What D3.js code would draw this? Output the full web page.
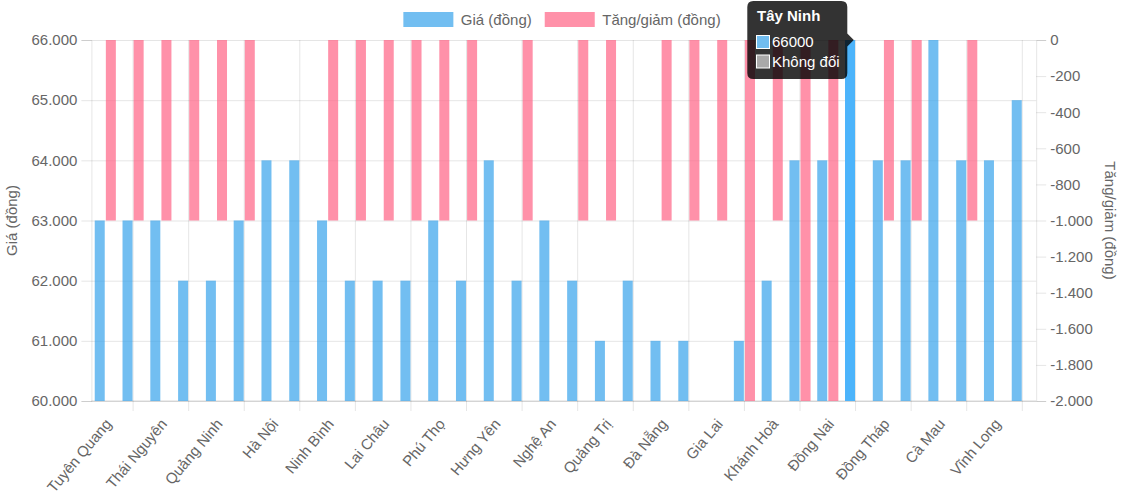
<!DOCTYPE html>
<html>
<head>
<meta charset="utf-8">
<script src="https://cdn.jsdelivr.net/npm/d3@7"></script>
<style>
  html, body { margin: 0; padding: 0; background: #fff; }
  svg { display: block; font-family: Arial, "Liberation Sans", Helvetica, sans-serif; }
</style>
</head>
<body>
<svg id="chart" width="1125" height="500"></svg>
<script>
// ---- data ----
const provinces = ["Tuyên Quang","Cao Bằng","Thái Nguyên","Lạng Sơn","Quảng Ninh","Bắc Ninh","Hà Nội","Hải Phòng","Ninh Bình","Điện Biên","Lai Châu","Sơn La","Phú Thọ","Lào Cai","Hưng Yên","Thanh Hoá","Nghệ An","Hà Tĩnh","Quảng Trị","Huế","Đà Nẵng","Quảng Ngãi","Gia Lai","Đắk Lắk","Khánh Hoà","Lâm Đồng","Đồng Nai","Tây Ninh","Đồng Tháp","TP. Hồ Chí Minh","Cà Mau","An Giang","Vĩnh Long","Cần Thơ"];
const prices = [63000,63000,63000,62000,62000,63000,64000,64000,63000,62000,62000,62000,63000,62000,64000,62000,63000,62000,61000,62000,61000,61000,60000,61000,62000,64000,64000,66000,64000,64000,66000,64000,64000,65000];
const changes = [-1000,-1000,-1000,-1000,-1000,-1000,0,0,-1000,-1000,-1000,-1000,-1000,-1000,0,-1000,0,-1000,-1000,0,-1000,-1000,-1000,-2000,-1000,-2000,-2000,0,-1000,-1000,0,-1000,0,0];
const seriesNames = ["Giá (đồng)", "Tăng/giảm (đồng)"];
const priceTicks = [60000,61000,62000,63000,64000,65000,66000];
const changeTicks = [0,-200,-400,-600,-800,-1000,-1200,-1400,-1600,-1800,-2000];
const hoverIndex = 27;
const tooltipLines = ["66000", "Không đổi"];

// ---- styles ----
const blue = "rgba(54,162,235,0.7)";
const blueHover = "#4cb4fb";
const pink = "rgba(255,99,132,0.7)";
const gridColor = "rgba(0,0,0,0.1)";
const tickColor = "#666";
const fs = 15;

const svg = d3.select("#chart");
const pL = 91.4, pR = 1036.2, pT = 40, pB = 401;

const x = d3.scaleBand().domain(provinces).range([pL, pR]).paddingInner(0).paddingOuter(0);
const bw = x.bandwidth();
const xs = d3.scaleBand().domain(["price","change"]).range([0.1*bw, 0.9*bw]).paddingInner(0.1).paddingOuter(0.05);
const yL = d3.scaleLinear().domain([60000, 66000]).range([pB, pT]);
const yR = d3.scaleLinear().domain([-2000, 0]).range([pB, pT]);

const loc = d3.formatLocale({decimal: ",", thousands: ".", grouping: [3], currency: ["", ""], minus: "-"});
const fmt = loc.format(",d");

// horizontal grid (left axis)
const gAxisL = svg.append("g").attr("transform", `translate(${pL},0)`)
  .call(d3.axisLeft(yL).tickValues(priceTicks).tickFormat(fmt).tickSize(10).tickPadding(4));
gAxisL.select(".domain").attr("stroke", gridColor);
gAxisL.selectAll(".tick line").attr("stroke", gridColor).attr("x1", -10).attr("x2", pR - pL);
gAxisL.selectAll(".tick text").attr("fill", tickColor).style("font-size", fs + "px").style("font-family", "Arial, 'Liberation Sans', sans-serif");

// right axis
const gAxisR = svg.append("g").attr("transform", `translate(${pR},0)`)
  .call(d3.axisRight(yR).tickValues(changeTicks).tickFormat(fmt).tickSize(10).tickPadding(4));
gAxisR.select(".domain").attr("stroke", gridColor);
gAxisR.selectAll(".tick line").attr("stroke", gridColor);
gAxisR.selectAll(".tick text").attr("fill", tickColor).style("font-size", fs + "px").style("font-family", "Arial, 'Liberation Sans', sans-serif");

// vertical grid lines at odd category centers (offset grid between shown ticks)
const gridIdx = provinces.map((d, i) => i).filter(i => i % 2 === 1);
svg.append("g").selectAll("line").data(gridIdx).join("line")
  .attr("x1", i => x(provinces[i]) + bw/2).attr("x2", i => x(provinces[i]) + bw/2)
  .attr("y1", pT).attr("y2", pB + 10)
  .attr("stroke", gridColor);

// bottom axis line
svg.append("line").attr("x1", pL).attr("x2", pR).attr("y1", pB).attr("y2", pB)
  .attr("stroke", "rgba(0,0,0,0.15)");

// x labels
const labelIdx = provinces.map((d, i) => i).filter(i => i % 2 === 0);
svg.append("g").selectAll("text").data(labelIdx).join("text")
  .attr("transform", i => `translate(${x(provinces[i]) + bw/2 + 3},${pB + 20}) rotate(-50)`)
  .attr("text-anchor", "end").attr("dy", "0.35em")
  .attr("fill", tickColor).style("font-size", fs + "px")
  .text(i => provinces[i]);

// bars
const gBars = svg.append("g");
gBars.selectAll("rect.price").data(prices).join("rect").attr("class", "price")
  .attr("x", (d, i) => x(provinces[i]) + xs("price"))
  .attr("width", xs.bandwidth())
  .attr("y", d => yL(d))
  .attr("height", d => yL(60000) - yL(d))
  .attr("fill", (d, i) => i === hoverIndex ? blueHover : blue);
gBars.selectAll("rect.change").data(changes).join("rect").attr("class", "change")
  .attr("x", (d, i) => x(provinces[i]) + xs("change"))
  .attr("width", xs.bandwidth())
  .attr("y", d => yR(0))
  .attr("height", d => yR(d) - yR(0))
  .attr("fill", pink);

// axis titles
svg.append("text").attr("transform", `translate(17,${(pT+pB)/2}) rotate(-90)`)
  .attr("text-anchor", "middle").attr("fill", tickColor).style("font-size", fs + "px")
  .text(seriesNames[0]);
svg.append("text").attr("transform", `translate(1105,${(pT+pB)/2}) rotate(90)`)
  .attr("text-anchor", "middle").attr("fill", tickColor).style("font-size", fs + "px")
  .text(seriesNames[1]);

// legend
const legend = svg.append("g");
const colors = [blue, pink];
let lx = 0;
const items = legend.selectAll("g").data(seriesNames).join("g");
items.each(function(d, i) {
  const g = d3.select(this);
  g.append("rect").attr("x", 0).attr("y", 12).attr("width", 50).attr("height", 15).attr("fill", colors[i]);
  const t = g.append("text").attr("x", 57.5).attr("y", 25).attr("fill", tickColor).style("font-size", fs + "px").text(d);
  const w = 57.5 + t.node().getComputedTextLength();
  g.attr("transform", `translate(${lx},0)`);
  lx += w + 13;
});
const totalW = lx - 13;
legend.attr("transform", `translate(${562 - totalW/2},0)`);

// tooltip
const tip = svg.append("g");
const tx0 = 747.3, ty0 = 1, tw = 100, th = 78, r = 6;
const path = d3.path();
path.moveTo(tx0 + r, ty0);
path.lineTo(tx0 + tw - r, ty0);
path.quadraticCurveTo(tx0 + tw, ty0, tx0 + tw, ty0 + r);
path.lineTo(tx0 + tw, 40 - 6.5);
path.lineTo(tx0 + tw + 6.5, 40);
path.lineTo(tx0 + tw, 40 + 6.5);
path.lineTo(tx0 + tw, ty0 + th - r);
path.quadraticCurveTo(tx0 + tw, ty0 + th, tx0 + tw - r, ty0 + th);
path.lineTo(tx0 + r, ty0 + th);
path.quadraticCurveTo(tx0, ty0 + th, tx0, ty0 + th - r);
path.lineTo(tx0, ty0 + r);
path.quadraticCurveTo(tx0, ty0, tx0 + r, ty0);
path.closePath();
tip.append("path").attr("d", path.toString()).attr("fill", "rgba(0,0,0,0.8)");
tip.append("text").attr("x", 757).attr("y", 21).attr("fill", "#fff").style("font-size", fs + "px").style("font-weight", "bold").text(provinces[hoverIndex]);
const boxColors = ["#71bdf0", "#a9a9a9"];
tooltipLines.forEach((t, i) => {
  tip.append("rect").attr("x", 756.5).attr("y", 35.5 + i*19.5).attr("width", 13).attr("height", 13)
    .attr("fill", boxColors[i]).attr("stroke", "#fff").attr("stroke-width", 1);
  tip.append("text").attr("x", 772).attr("y", 47 + i*19.5).attr("fill", "#fff").style("font-size", fs + "px").text(t);
});
</script>
</body>
</html>
